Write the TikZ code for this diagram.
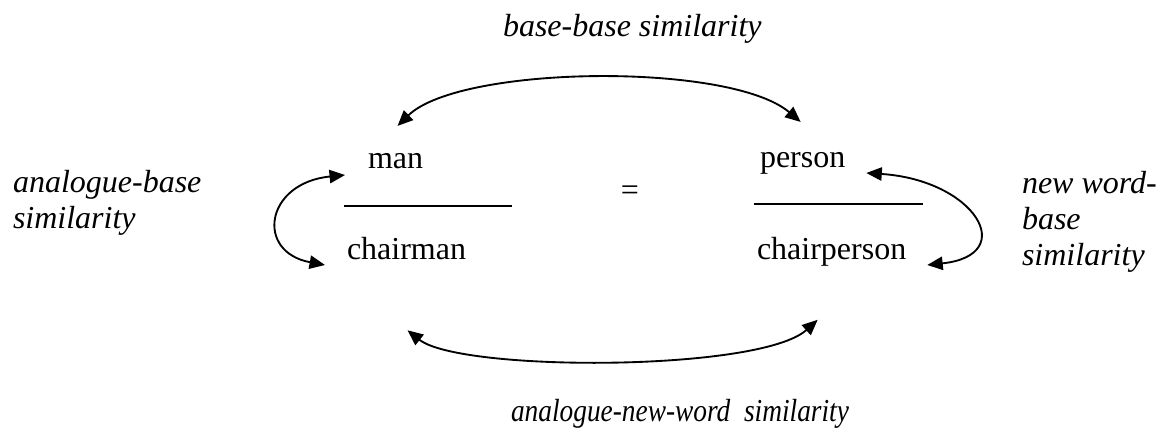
\documentclass[tikz,border=0pt]{standalone}
\usepackage{fontspec}
\setmainfont{Liberation Serif}
\usetikzlibrary{arrows.meta}

\begin{document}
\begin{tikzpicture}[x=0.375pt, y=-0.375pt, every node/.style={inner sep=0pt, outer sep=0pt, anchor=base west, font=\fontsize{12}{13.5}\selectfont}, simlabel/.style={font=\fontsize{12}{13.4}\selectfont\itshape, align=left}, sim/.style={line width=0.7pt, {Triangle[length=5.8pt,width=5pt]}-{Triangle[length=5.8pt,width=5pt]}}]
        \useasboundingbox (0,0) rectangle (1157,428);

        % the two fractions
        \node (man) at (368,168) {man};
        \node (chairman) at (347,259) {chairman};
        \node (person) at (760,167) {person};
        \node (chairperson) at (757,259) {chairperson};
        \node (eq) [anchor=base] at (630,200) {=};
        \draw[line width=0.7pt] (344,206) -- (512,206);
        \draw[line width=0.7pt] (754,204) -- (923,204);

        % labels (base is the last line)
        \node (bb) [simlabel] at (503,37) {base-base similarity};
        \node (ab) [simlabel] at (13,228) {analogue-base\\similarity};
        \node (nb) [simlabel] at (1022,265) {new word-\\base\\similarity};
        \node (anw) [simlabel] at (511,421) {\scalebox{0.855}[1]{analogue-new-word~~similarity}};

        % similarity arrows
        \draw[sim] ([shift={(2,-27)}]man.north) .. controls (460,65) and (730,62) .. ([shift={(-2,-30)}]person.north);
        \draw[sim] ([shift={(-23,7)}]man.base west) .. controls (265,183) and (255,252) .. ([shift={(-22,6)}]chairman.base west);
        \draw[sim] ([shift={(21,6)}]person.base east) .. controls (975,180) and (1020,255) .. ([shift={(21,6)}]chairperson.base east);
        \draw[sim] ([shift={(1,71)}]chairman.south) .. controls (460,372) and (760,372) .. ([shift={(-14,54)}]chairperson.south);
    \end{tikzpicture}
\end{document}
